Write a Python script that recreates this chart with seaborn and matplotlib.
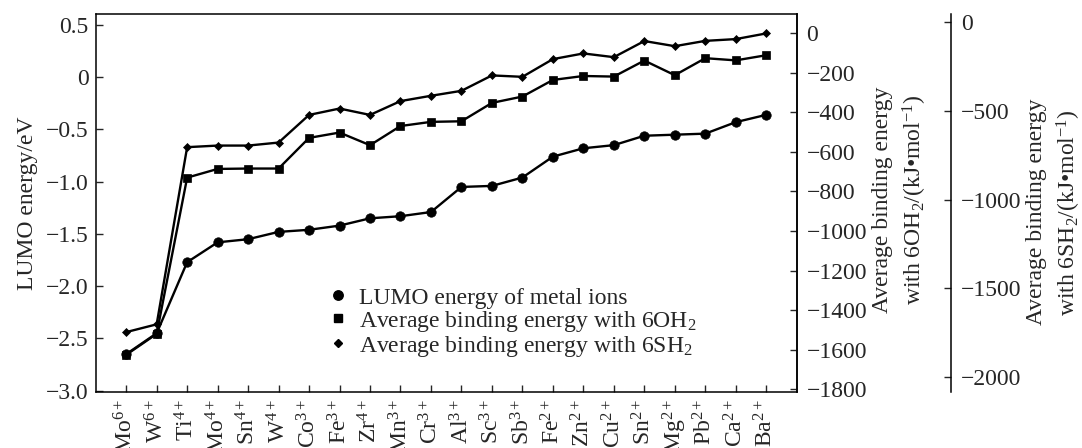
import numpy as np
import pandas as pd
import matplotlib
matplotlib.use("Agg")
import matplotlib.pyplot as plt
from matplotlib.lines import Line2D
import seaborn as sns

# ---------------- data ----------------
ions = ["Mo$^{6+}$", "W$^{6+}$", "Ti$^{4+}$", "Mo$^{4+}$", "Sn$^{4+}$", "W$^{4+}$",
        "Co$^{3+}$", "Fe$^{3+}$", "Zr$^{4+}$", "Mn$^{3+}$", "Cr$^{3+}$", "Al$^{3+}$",
        "Sc$^{3+}$", "Sb$^{3+}$", "Fe$^{2+}$", "Zn$^{2+}$", "Cu$^{2+}$", "Sn$^{2+}$",
        "Mg$^{2+}$", "Pb$^{2+}$", "Ca$^{2+}$", "Ba$^{2+}$"]
lumo = [-2.65, -2.45, -1.77, -1.58, -1.55, -1.48, -1.46, -1.42, -1.35, -1.33, -1.29,
        -1.05, -1.04, -0.96, -0.76, -0.68, -0.65, -0.56, -0.55, -0.54, -0.43, -0.36]
oh2 = [-1626, -1520, -730, -686, -684, -684, -529, -502, -566, -469, -448, -445,
       -352, -320, -236, -216, -219, -138, -212, -126, -137, -111]
sh2 = [-1748, -1704, -704, -695, -695, -678, -522, -486, -522, -444, -414, -386,
       -299, -307, -207, -175, -196, -105, -134, -104, -94, -62]

lumo_ticks = [0.5, 0, -0.5, -1.0, -1.5, -2.0, -2.5, -3.0]
oh2_ticks = [0, -200, -400, -600, -800, -1000, -1200, -1400, -1600, -1800]
sh2_ticks = [0, -500, -1000, -1500, -2000]

legend_labels = ["LUMO energy of metal ions",
                 "Average binding energy with 6OH$_2$",
                 "Average binding energy with 6SH$_2$"]
ylabel_left = "LUMO energy/eV"
ylabel_oh2 = "Average binding energy\nwith 6OH$_2$/(kJ\u2022mol$^{-1}$)"
ylabel_sh2 = "Average binding energy\nwith 6SH$_2$/(kJ\u2022mol$^{-1}$)"

# ---------------- style ----------------
sns.set_style("white")
plt.rcParams["font.family"] = ["Liberation Serif", "DejaVu Serif"]
plt.rcParams["mathtext.fontset"] = "custom"
plt.rcParams["mathtext.rm"] = "Liberation Serif"
plt.rcParams["mathtext.it"] = "Liberation Serif:italic"
plt.rcParams["mathtext.bf"] = "Liberation Serif:bold"
plt.rcParams["axes.unicode_minus"] = True
FS = 17

def fmt(v, dec):
    if v == 0:
        return "0"
    s = f"{v:.{dec}f}"
    return s.replace("-", "\u2212")

df = pd.DataFrame({"pos": np.arange(len(ions)), "lumo": lumo, "oh2": oh2, "sh2": sh2})

fig = plt.figure(figsize=(10.82, 4.48), dpi=100)
ax = fig.add_axes([0.08845, 0.125, 0.6479, 0.8431])
ax2 = ax.twinx()
ax3 = ax.twinx()
ax3.spines["right"].set_position(("axes", 1.2201))
for sp in ["top", "bottom", "left"]:
    ax3.spines[sp].set_visible(False)
    ax2.spines[sp].set_visible(False)

lw = 1.7
sns.lineplot(data=df, x="pos", y="lumo", ax=ax, color="black", lw=lw, marker="o",
             markersize=6.8, markeredgecolor="black", markeredgewidth=0.5,
             sort=False, errorbar=None, legend=False)
sns.lineplot(data=df, x="pos", y="oh2", ax=ax2, color="black", lw=lw, marker="s",
             markersize=6.2, markeredgecolor="black", markeredgewidth=0.5,
             sort=False, errorbar=None, legend=False)
sns.lineplot(data=df, x="pos", y="sh2", ax=ax3, color="black", lw=lw, marker="D",
             markersize=4.0, markeredgecolor="black", markeredgewidth=0.5,
             sort=False, errorbar=None, legend=False)

# axes limits / ticks
ax.set_xlim(-1, len(ions))
ax.set_xticks(df["pos"])
ax.set_xticklabels(ions, rotation=90, fontsize=FS)
ax.set_xlabel("")
ax.set_ylim(-3.012, 0.602)
ax.set_yticks(lumo_ticks)
ax.set_yticklabels([fmt(v, 1) for v in lumo_ticks], fontsize=FS)
ax.set_ylabel(ylabel_left, fontsize=FS)
ax.yaxis.set_label_coords(-0.082, 0.5)

ax2.set_ylim(-1814, 96)
ax2.set_yticks(oh2_ticks)
ax2.set_yticklabels([fmt(v, 0) for v in oh2_ticks], fontsize=FS)
ax2.set_ylabel(ylabel_oh2, fontsize=FS, linespacing=1.35)
ax2.yaxis.set_label_coords(1.108, 0.51)

ax3.set_ylim(-2086, 46)
ax3.set_yticks(sh2_ticks)
ax3.set_yticklabels([fmt(v, 0) for v in sh2_ticks], fontsize=FS)
ax3.set_ylabel(ylabel_sh2, fontsize=FS, linespacing=1.4)
ax3.yaxis.set_label_coords(1.3265, 0.476)

ax.tick_params(axis="x", direction="in", length=5, width=1, pad=5, bottom=True, top=False)
ax.tick_params(axis="y", direction="in", length=5, width=1, pad=5, left=True, right=False)
ax2.tick_params(axis="y", direction="in", length=5, width=1, pad=7, right=True, left=False)
ax3.tick_params(axis="y", direction="in", length=5, width=1, pad=7, right=True, left=False)

for a in (ax, ax2, ax3):
    for sp in a.spines.values():
        sp.set_linewidth(1.1)
        sp.set_color("black")

handles = [
    Line2D([], [], color="black", marker="o", linestyle="none", markersize=6.8),
    Line2D([], [], color="black", marker="s", linestyle="none", markersize=6.2),
    Line2D([], [], color="black", marker="D", linestyle="none", markersize=4.0),
]
ax3.legend(handles, legend_labels, loc="upper left", bbox_to_anchor=(0.3285, 0.278),
           bbox_transform=ax.transAxes, frameon=False, fontsize=FS,
           handlelength=1.0, handletextpad=0.4, labelspacing=0.0,
           borderpad=0, borderaxespad=0)

fig.savefig("out.png", dpi=100)
